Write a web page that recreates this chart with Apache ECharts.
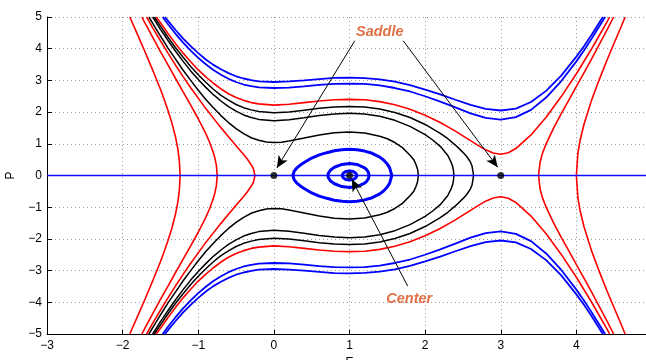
<!DOCTYPE html>
<html><head><meta charset="utf-8">
<script src="https://cdn.jsdelivr.net/npm/echarts/dist/echarts.min.js"></script>
<style>html,body{margin:0;padding:0;background:#fff}#c{width:646px;height:360px}</style>
</head><body><div id="c"></div>
<script>
// ---- data (E, P) ----
const zeroLine = [[-3,0],[5,0]];
const fixedPoints = [[0,0],[1,0],[3,0]];

const blueOuterTop = [[-1.44,5.0],[-1.4,4.88],[-1.3,4.59],[-1.2,4.32],[-1.1,4.08],[-1.0,3.86],[-0.9,3.66],[-0.8,3.49],[-0.7,3.35],[-0.6,3.23],[-0.5,3.13],[-0.4,3.06],[-0.3,3.01],[-0.2,2.97],[0,2.95],[0.2,2.97],[0.4,3.0],[0.6,3.04],[0.8,3.08],[1.0,3.09],[1.2,3.07],[1.4,3.03],[1.6,2.96],[1.8,2.85],[2.0,2.71],[2.2,2.56],[2.4,2.39],[2.6,2.23],[2.8,2.10],[3.0,2.05],[3.2,2.11],[3.4,2.32],[3.6,2.67],[3.8,3.15],[4.0,3.75],[4.1,4.08],[4.2,4.43],[4.3,4.81],[4.35,5.0]];
const blueOuterBottom = [[-1.44,-5.0],[-1.4,-4.88],[-1.3,-4.59],[-1.2,-4.32],[-1.1,-4.08],[-1.0,-3.86],[-0.9,-3.66],[-0.8,-3.49],[-0.7,-3.35],[-0.6,-3.23],[-0.5,-3.13],[-0.4,-3.06],[-0.3,-3.01],[-0.2,-2.97],[0,-2.95],[0.2,-2.97],[0.4,-3.0],[0.6,-3.04],[0.8,-3.08],[1.0,-3.09],[1.2,-3.07],[1.4,-3.03],[1.6,-2.96],[1.8,-2.85],[2.0,-2.71],[2.2,-2.56],[2.4,-2.39],[2.6,-2.23],[2.8,-2.10],[3.0,-2.05],[3.2,-2.11],[3.4,-2.32],[3.6,-2.67],[3.8,-3.15],[4.0,-3.75],[4.1,-4.08],[4.2,-4.43],[4.3,-4.81],[4.35,-5.0]];
const blueInnerTop = [[-1.47,5.0],[-1.4,4.77],[-1.3,4.47],[-1.2,4.19],[-1.1,3.94],[-1.0,3.71],[-0.9,3.51],[-0.8,3.33],[-0.7,3.18],[-0.6,3.05],[-0.5,2.95],[-0.4,2.87],[-0.3,2.82],[-0.2,2.78],[0,2.76],[0.2,2.77],[0.4,2.81],[0.6,2.86],[0.8,2.89],[1.0,2.90],[1.2,2.89],[1.4,2.84],[1.6,2.76],[1.8,2.65],[2.0,2.50],[2.2,2.33],[2.4,2.15],[2.6,1.96],[2.8,1.82],[3.0,1.76],[3.2,1.84],[3.4,2.07],[3.6,2.46],[3.8,2.98],[4.0,3.60],[4.1,3.94],[4.2,4.31],[4.3,4.69],[4.38,5.0]];
const blueInnerBottom = [[-1.47,-5.0],[-1.4,-4.77],[-1.3,-4.47],[-1.2,-4.19],[-1.1,-3.94],[-1.0,-3.71],[-0.9,-3.51],[-0.8,-3.33],[-0.7,-3.18],[-0.6,-3.05],[-0.5,-2.95],[-0.4,-2.87],[-0.3,-2.82],[-0.2,-2.78],[0,-2.76],[0.2,-2.77],[0.4,-2.81],[0.6,-2.86],[0.8,-2.89],[1.0,-2.90],[1.2,-2.89],[1.4,-2.84],[1.6,-2.76],[1.8,-2.65],[2.0,-2.50],[2.2,-2.33],[2.4,-2.15],[2.6,-1.96],[2.8,-1.82],[3.0,-1.76],[3.2,-1.84],[3.4,-2.07],[3.6,-2.46],[3.8,-2.98],[4.0,-3.60],[4.1,-3.94],[4.2,-4.31],[4.3,-4.69],[4.38,-5.0]];
const redPassTop = [[-1.555,5.0],[-1.5,4.82],[-1.4,4.48],[-1.3,4.16],[-1.2,3.86],[-1.1,3.59],[-1.0,3.33],[-0.9,3.11],[-0.8,2.91],[-0.7,2.73],[-0.6,2.58],[-0.5,2.46],[-0.4,2.37],[-0.3,2.30],[-0.2,2.26],[0,2.22],[0.2,2.25],[0.4,2.30],[0.6,2.35],[0.8,2.39],[1.0,2.40],[1.2,2.39],[1.4,2.33],[1.6,2.23],[1.8,2.09],[2.0,1.90],[2.2,1.67],[2.4,1.40],[2.6,1.10],[2.7,0.95],[2.8,0.81],[2.9,0.71],[3.0,0.67],[3.1,0.72],[3.2,0.85],[3.4,1.28],[3.6,1.84],[3.8,2.49],[4.0,3.21],[4.2,3.99],[4.4,4.82],[4.44,5.0]];
const redPassBottom = [[-1.555,-5.0],[-1.5,-4.82],[-1.4,-4.48],[-1.3,-4.16],[-1.2,-3.86],[-1.1,-3.59],[-1.0,-3.33],[-0.9,-3.11],[-0.8,-2.91],[-0.7,-2.73],[-0.6,-2.58],[-0.5,-2.46],[-0.4,-2.37],[-0.3,-2.30],[-0.2,-2.26],[0,-2.22],[0.2,-2.25],[0.4,-2.30],[0.6,-2.35],[0.8,-2.39],[1.0,-2.40],[1.2,-2.39],[1.4,-2.33],[1.6,-2.23],[1.8,-2.09],[2.0,-1.90],[2.2,-1.67],[2.4,-1.40],[2.6,-1.10],[2.7,-0.95],[2.8,-0.81],[2.9,-0.71],[3.0,-0.67],[3.1,-0.72],[3.2,-0.85],[3.4,-1.28],[3.6,-1.84],[3.8,-2.49],[4.0,-3.21],[4.2,-3.99],[4.4,-4.82],[4.44,-5.0]];

const black1 = [[-1.58,5.0],[-1.5,4.71],[-1.4,4.36],[-1.3,4.03],[-1.2,3.73],[-1.1,3.44],[-1.0,3.18],[-0.9,2.94],[-0.8,2.72],[-0.7,2.53],[-0.6,2.38],[-0.5,2.24],[-0.4,2.14],[-0.3,2.07],[-0.2,2.02],[0,1.98],[0.2,2.0],[0.4,2.06],[0.6,2.12],[0.8,2.16],[1.0,2.18],[1.2,2.16],[1.4,2.10],[1.6,1.99],[1.8,1.83],[2.0,1.61],[2.2,1.33],[2.3,1.16],[2.4,0.96],[2.5,0.73],[2.55,0.60],[2.6,0.42],[2.62,0.30],[2.63,0.16],[2.64,0],[2.63,-0.16],[2.62,-0.30],[2.6,-0.42],[2.55,-0.60],[2.5,-0.73],[2.4,-0.96],[2.3,-1.16],[2.2,-1.33],[2.0,-1.61],[1.8,-1.83],[1.6,-1.99],[1.4,-2.10],[1.2,-2.16],[1.0,-2.18],[0.8,-2.16],[0.6,-2.12],[0.4,-2.06],[0.2,-2.0],[0,-1.98],[-0.2,-2.02],[-0.3,-2.07],[-0.4,-2.14],[-0.5,-2.24],[-0.6,-2.38],[-0.7,-2.53],[-0.8,-2.72],[-0.9,-2.94],[-1.0,-3.18],[-1.1,-3.44],[-1.2,-3.73],[-1.3,-4.03],[-1.4,-4.36],[-1.5,-4.71],[-1.58,-5.0]];
const black2 = [[-1.603,5.0],[-1.5,4.61],[-1.4,4.26],[-1.3,3.92],[-1.2,3.60],[-1.1,3.30],[-1.0,3.03],[-0.9,2.78],[-0.8,2.55],[-0.7,2.35],[-0.6,2.17],[-0.5,2.03],[-0.4,1.91],[-0.3,1.83],[-0.2,1.77],[0,1.73],[0.2,1.76],[0.4,1.82],[0.6,1.89],[0.8,1.94],[1.0,1.96],[1.2,1.94],[1.4,1.87],[1.6,1.74],[1.8,1.55],[2.0,1.29],[2.1,1.12],[2.2,0.92],[2.3,0.63],[2.34,0.44],[2.365,0.28],[2.375,0.15],[2.38,0],[2.375,-0.15],[2.365,-0.28],[2.34,-0.44],[2.3,-0.63],[2.2,-0.92],[2.1,-1.12],[2.0,-1.29],[1.8,-1.55],[1.6,-1.74],[1.4,-1.87],[1.2,-1.94],[1.0,-1.96],[0.8,-1.94],[0.6,-1.89],[0.4,-1.82],[0.2,-1.76],[0,-1.73],[-0.2,-1.77],[-0.3,-1.83],[-0.4,-1.91],[-0.5,-2.03],[-0.6,-2.17],[-0.7,-2.35],[-0.8,-2.55],[-0.9,-2.78],[-1.0,-3.03],[-1.1,-3.30],[-1.2,-3.60],[-1.3,-3.92],[-1.4,-4.26],[-1.5,-4.61],[-1.603,-5.0]];
const black3 = [[-1.652,5.0],[-1.6,4.79],[-1.5,4.40],[-1.4,4.02],[-1.3,3.67],[-1.2,3.32],[-1.1,3.00],[-1.0,2.69],[-0.9,2.40],[-0.8,2.14],[-0.7,1.89],[-0.6,1.67],[-0.5,1.48],[-0.4,1.32],[-0.3,1.19],[-0.2,1.11],[-0.1,1.055],[0,1.04],[0.1,1.05],[0.2,1.09],[0.4,1.18],[0.6,1.28],[0.8,1.35],[1.0,1.37],[1.2,1.34],[1.4,1.24],[1.5,1.16],[1.6,1.04],[1.7,0.88],[1.8,0.64],[1.85,0.50],[1.88,0.34],[1.9,0.2],[1.91,0],[1.9,-0.2],[1.88,-0.34],[1.85,-0.50],[1.8,-0.64],[1.7,-0.88],[1.6,-1.04],[1.5,-1.16],[1.4,-1.24],[1.2,-1.34],[1.0,-1.37],[0.8,-1.35],[0.6,-1.28],[0.4,-1.18],[0.2,-1.09],[0.1,-1.05],[0,-1.04],[-0.1,-1.055],[-0.2,-1.11],[-0.3,-1.19],[-0.4,-1.32],[-0.5,-1.48],[-0.6,-1.67],[-0.7,-1.89],[-0.8,-2.14],[-0.9,-2.40],[-1.0,-2.69],[-1.1,-3.00],[-1.2,-3.32],[-1.3,-3.67],[-1.4,-4.02],[-1.5,-4.40],[-1.6,-4.79],[-1.652,-5.0]];

const redLeft1 = [[-1.905,5.0],[-1.8,4.43],[-1.7,3.88],[-1.6,3.31],[-1.5,2.72],[-1.45,2.40],[-1.4,2.05],[-1.35,1.67],[-1.3,1.21],[-1.27,0.84],[-1.25,0.47],[-1.24,0],[-1.25,-0.47],[-1.27,-0.84],[-1.3,-1.21],[-1.35,-1.67],[-1.4,-2.05],[-1.45,-2.40],[-1.5,-2.72],[-1.6,-3.31],[-1.7,-3.88],[-1.8,-4.43],[-1.905,-5.0]];
const redLeft2 = [[-1.745,5.0],[-1.7,4.79],[-1.6,4.35],[-1.5,3.91],[-1.4,3.49],[-1.3,3.06],[-1.2,2.64],[-1.1,2.22],[-1.0,1.79],[-0.9,1.32],[-0.85,1.05],[-0.8,0.72],[-0.78,0.55],[-0.76,0.32],[-0.75,0],[-0.76,-0.32],[-0.78,-0.55],[-0.8,-0.72],[-0.85,-1.05],[-0.9,-1.32],[-1.0,-1.79],[-1.1,-2.22],[-1.2,-2.64],[-1.3,-3.06],[-1.4,-3.49],[-1.5,-3.91],[-1.6,-4.35],[-1.7,-4.79],[-1.745,-5.0]];
const redLeft3 = [[-1.683,5.0],[-1.6,4.65],[-1.5,4.25],[-1.4,3.86],[-1.3,3.48],[-1.2,3.12],[-1.1,2.77],[-1.0,2.44],[-0.9,2.11],[-0.8,1.81],[-0.7,1.51],[-0.6,1.22],[-0.5,0.94],[-0.4,0.66],[-0.35,0.51],[-0.3,0.34],[-0.27,0.21],[-0.25,0],[-0.27,-0.21],[-0.3,-0.34],[-0.35,-0.51],[-0.4,-0.66],[-0.5,-0.94],[-0.6,-1.22],[-0.7,-1.51],[-0.8,-1.81],[-0.9,-2.11],[-1.0,-2.44],[-1.1,-2.77],[-1.2,-3.12],[-1.3,-3.48],[-1.4,-3.86],[-1.5,-4.25],[-1.6,-4.65],[-1.683,-5.0]];
const redRight1 = [[4.493,5.0],[4.4,4.57],[4.3,4.12],[4.2,3.67],[4.1,3.24],[4.0,2.81],[3.9,2.38],[3.8,1.95],[3.7,1.50],[3.6,1.0],[3.55,0.69],[3.52,0.42],[3.5,0],[3.52,-0.42],[3.55,-0.69],[3.6,-1.0],[3.7,-1.50],[3.8,-1.95],[3.9,-2.38],[4.0,-2.81],[4.1,-3.24],[4.2,-3.67],[4.3,-4.12],[4.4,-4.57],[4.493,-5.0]];
const redRight2 = [[4.645,5.0],[4.6,4.74],[4.5,4.18],[4.4,3.61],[4.3,3.01],[4.2,2.37],[4.1,1.61],[4.05,1.12],[4.02,0.70],[4.0,0],[4.02,-0.70],[4.05,-1.12],[4.1,-1.61],[4.2,-2.37],[4.3,-3.01],[4.4,-3.61],[4.5,-4.18],[4.6,-4.74],[4.645,-5.0]];

const ovalOuter = [[0.25,0],[0.27,0.14],[0.3,0.23],[0.35,0.33],[0.4,0.41],[0.5,0.55],[0.6,0.65],[0.7,0.72],[0.8,0.78],[0.9,0.81],[1.0,0.83],[1.1,0.81],[1.2,0.77],[1.3,0.70],[1.4,0.58],[1.45,0.49],[1.5,0.36],[1.53,0.25],[1.56,0],[1.53,-0.25],[1.5,-0.36],[1.45,-0.49],[1.4,-0.58],[1.3,-0.70],[1.2,-0.77],[1.1,-0.81],[1.0,-0.83],[0.9,-0.81],[0.8,-0.78],[0.7,-0.72],[0.6,-0.65],[0.5,-0.55],[0.4,-0.41],[0.35,-0.33],[0.3,-0.23],[0.27,-0.14],[0.25,0]];
const ovalMiddle = [[0.715,0],[0.72,0.07],[0.75,0.175],[0.8,0.26],[0.9,0.35],[1.0,0.38],[1.1,0.35],[1.2,0.24],[1.23,0.175],[1.25,0.10],[1.258,0],[1.25,-0.10],[1.23,-0.175],[1.2,-0.24],[1.1,-0.35],[1.0,-0.38],[0.9,-0.35],[0.8,-0.26],[0.75,-0.175],[0.72,-0.07],[0.715,0]];
const ovalInner = [[0.9,0],[0.92,0.08],[0.95,0.125],[1.0,0.14],[1.05,0.125],[1.08,0.08],[1.1,0],[1.08,-0.08],[1.05,-0.125],[1.0,-0.14],[0.95,-0.125],[0.92,-0.08],[0.9,0]];

const labels = [[1.40,4.52,'Saddle'],[1.79,-3.9,'Center']];
const arrows = [[[1.07,4.25],[0.04,0.24]],[[1.71,4.25],[2.96,0.26]],[[1.77,-3.49],[1.03,-0.12]]];

// ---- chart ----
const RED='#ff0000', BLUE='#0000ff', BLACK='#000000';
function curve(data,color,width,z){
  return {type:'line',data:data,symbol:'none',showSymbol:false,silent:true,animation:false,
    color:color,lineStyle:{color:color,width:width},itemStyle:{color:color},z:z||2};
}
const font = 'Liberation Sans, Arial, Helvetica, sans-serif';
const chart = echarts.init(document.getElementById('c'),null,{renderer:'canvas'});
const series = [
  curve(redLeft1,RED,1.6),curve(redLeft2,RED,1.6),curve(redLeft3,RED,1.6),
  curve(redRight1,RED,1.6),curve(redRight2,RED,1.6),
  curve(black1,BLACK,1.5),curve(black2,BLACK,1.5),curve(black3,BLACK,1.5),
  curve(redPassTop,RED,1.6),curve(redPassBottom,RED,1.6),
  curve(blueInnerTop,BLUE,1.8),curve(blueInnerBottom,BLUE,1.8),
  curve(blueOuterTop,BLUE,1.8),curve(blueOuterBottom,BLUE,1.8),
  curve(zeroLine,'#1010ff',1.6,3),
  curve(ovalOuter,BLUE,3,4),curve(ovalMiddle,BLUE,3,4),curve(ovalInner,BLUE,3,4),
  {type:'scatter',data:fixedPoints,symbol:'circle',symbolSize:7,itemStyle:{color:BLACK},silent:true,animation:false,z:5},
  {type:'scatter',data:[],symbolSize:0,silent:true,animation:false,z:6,
    markLine:{silent:true,animation:false,symbol:['none','arrow'],symbolSize:[8,12],precision:3,
      lineStyle:{color:BLACK,width:1,type:'solid'},itemStyle:{color:BLACK},label:{show:false},emphasis:{disabled:true},
      data:arrows.map(a=>[{coord:a[0]},{coord:a[1]}])}},
  {type:'scatter',data:labels,symbolSize:1,itemStyle:{color:'rgba(255,255,255,0)'},silent:true,animation:false,z:7,
    label:{show:true,position:'inside',formatter:p=>p.data[2],fontSize:14.5,fontWeight:'bold',fontStyle:'italic',
      color:'#d84e18',textBorderWidth:0,fontFamily:font}}
];
const minus = v => String(v).replace('-','\u2212');
chart.setOption({
  animation:false,
  backgroundColor:'#fff',
  grid:{left:47,top:17,bottom:26,right:-6,containLabel:false,outerBoundsMode:'none'},
  xAxis:{type:'value',min:-3,max:5,interval:1,name:'E',nameLocation:'middle',nameGap:22,
    nameTextStyle:{fontSize:12,color:'#000',fontFamily:font},
    axisLine:{show:true,onZero:false,lineStyle:{color:'#000',width:1}},
    axisTick:{show:true,inside:true,length:4,lineStyle:{color:'#000'}},
    axisLabel:{fontSize:12,color:'#000',margin:6,fontFamily:font,formatter:minus},
    splitLine:{show:true,lineStyle:{color:'#9a9a9a',width:1,type:[1,3]}}},
  yAxis:{type:'value',min:-5,max:5,interval:1,name:'P',nameLocation:'middle',nameGap:30,nameRotate:90,
    nameTextStyle:{fontSize:12,color:'#000',fontFamily:font},
    axisLine:{show:true,onZero:false,lineStyle:{color:'#000',width:1}},
    axisTick:{show:true,inside:true,length:5,lineStyle:{color:'#000'}},
    axisLabel:{fontSize:12,color:'#000',margin:5,fontFamily:font,formatter:minus},
    splitLine:{show:true,lineStyle:{color:'#9a9a9a',width:1,type:[1,3]}}},
  series:series
});
</script></body></html>
